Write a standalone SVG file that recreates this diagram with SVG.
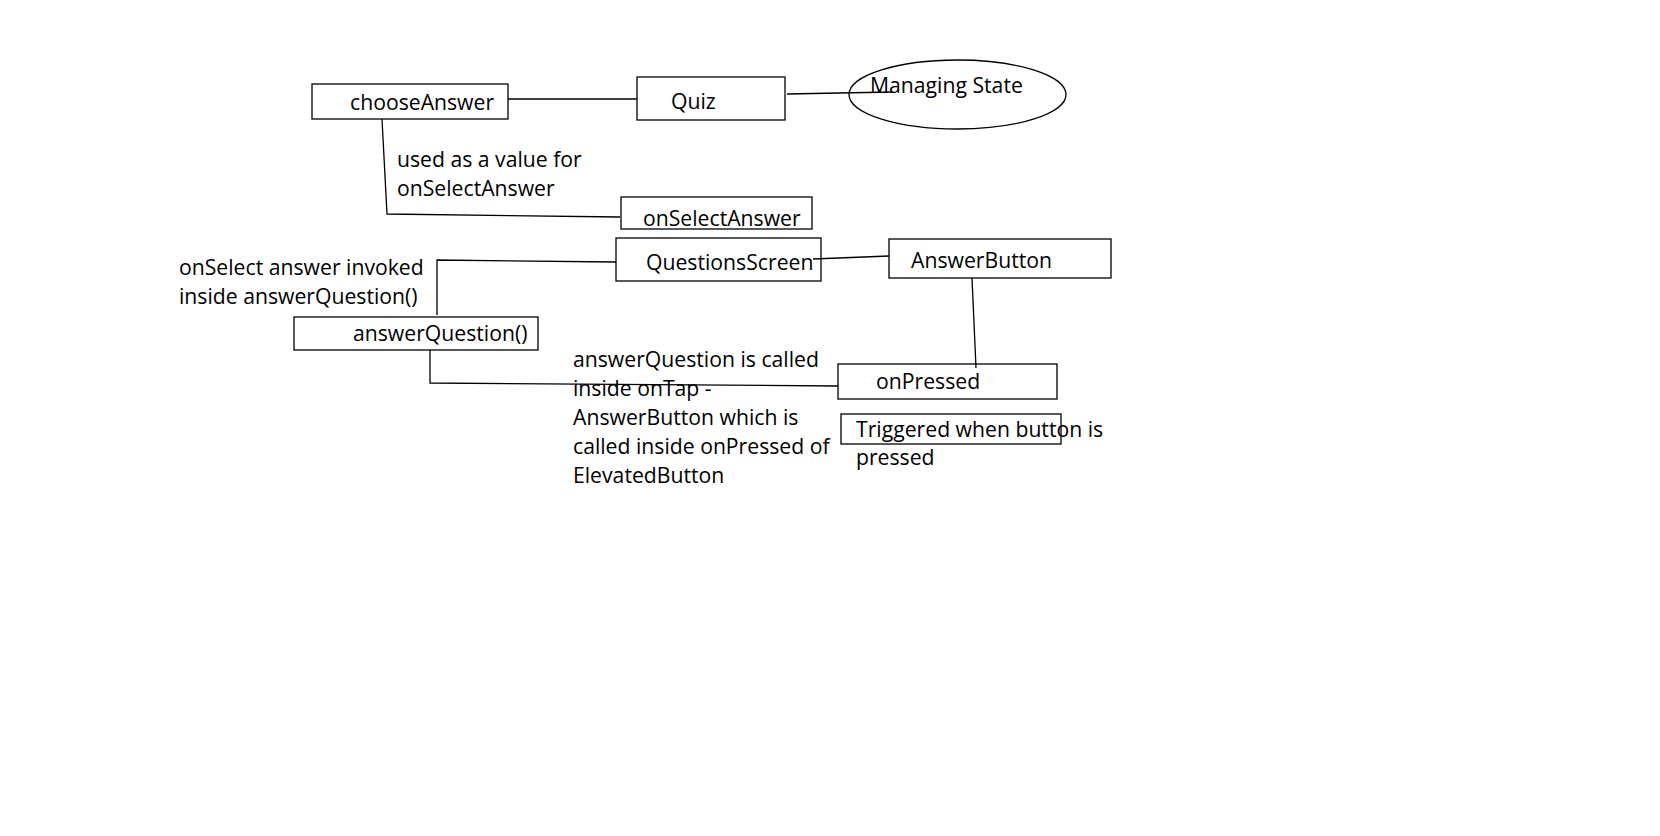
<svg xmlns="http://www.w3.org/2000/svg" width="1660" height="836" viewBox="0 0 1660 836">
<style>
.box{fill:none;stroke:#000;stroke-width:1.3}
.ln{fill:none;stroke:#000;stroke-width:1.3}
text{font-family:"Open Sans","Noto Sans","Liberation Sans",sans-serif;font-size:21.2px;fill:#000}
</style>
<rect width="1660" height="836" fill="#fff"/>
<g id="connectors">
<polyline class="ln" points="508,99 637,99"/>
<polyline class="ln" points="787,94 839,93 893,92"/>
<polyline class="ln" points="382,119 387,214 620,217"/>
<polyline class="ln" points="437,315 437,260 616,262"/>
<polyline class="ln" points="430,350 430,383 838,386"/>
<polyline class="ln" points="813,259 889,256"/>
<polyline class="ln" points="972,278 976,368"/>
</g>
<g id="chooseAnswer"><rect class="box" x="312" y="84" width="196" height="35"/><text x="350" y="110">chooseAnswer</text></g>
<g id="quiz"><rect class="box" x="637" y="77" width="148" height="43"/><text x="671" y="109">Quiz</text></g>
<g id="managingState"><ellipse class="box" cx="957.5" cy="94.5" rx="108.5" ry="34.5"/><text x="870" y="93">Managing State</text></g>
<g id="onSelectAnswer"><rect class="box" x="621" y="197" width="191" height="32"/><text x="643" y="226">onSelectAnswer</text></g>
<g id="questionsScreen"><rect class="box" x="616" y="238" width="205" height="43"/><text x="646" y="270">QuestionsScreen</text></g>
<g id="answerButton"><rect class="box" x="889" y="239" width="222" height="39"/><text x="911" y="268">AnswerButton</text></g>
<g id="answerQuestion"><rect class="box" x="294" y="317" width="244" height="33"/><text x="353" y="341">answerQuestion()</text></g>
<g id="onPressed"><rect class="box" x="838" y="364" width="219" height="35"/><text x="876" y="389">onPressed</text></g>
<g id="triggered"><rect class="box" x="841" y="414" width="220" height="30"/><text x="856" y="437">Triggered when button is</text><text x="856" y="465">pressed</text></g>
<g id="label-used"><text x="397" y="167">used as a value for</text><text x="397" y="196">onSelectAnswer</text></g>
<g id="label-invoked"><text x="179" y="275">onSelect answer invoked</text><text x="179" y="304">inside answerQuestion()</text></g>
<g id="label-called"><text x="573" y="367">answerQuestion is called</text><text x="573" y="396">inside onTap -</text><text x="573" y="425">AnswerButton which is</text><text x="573" y="454">called inside onPressed of</text><text x="573" y="483">ElevatedButton</text></g>
</svg>
